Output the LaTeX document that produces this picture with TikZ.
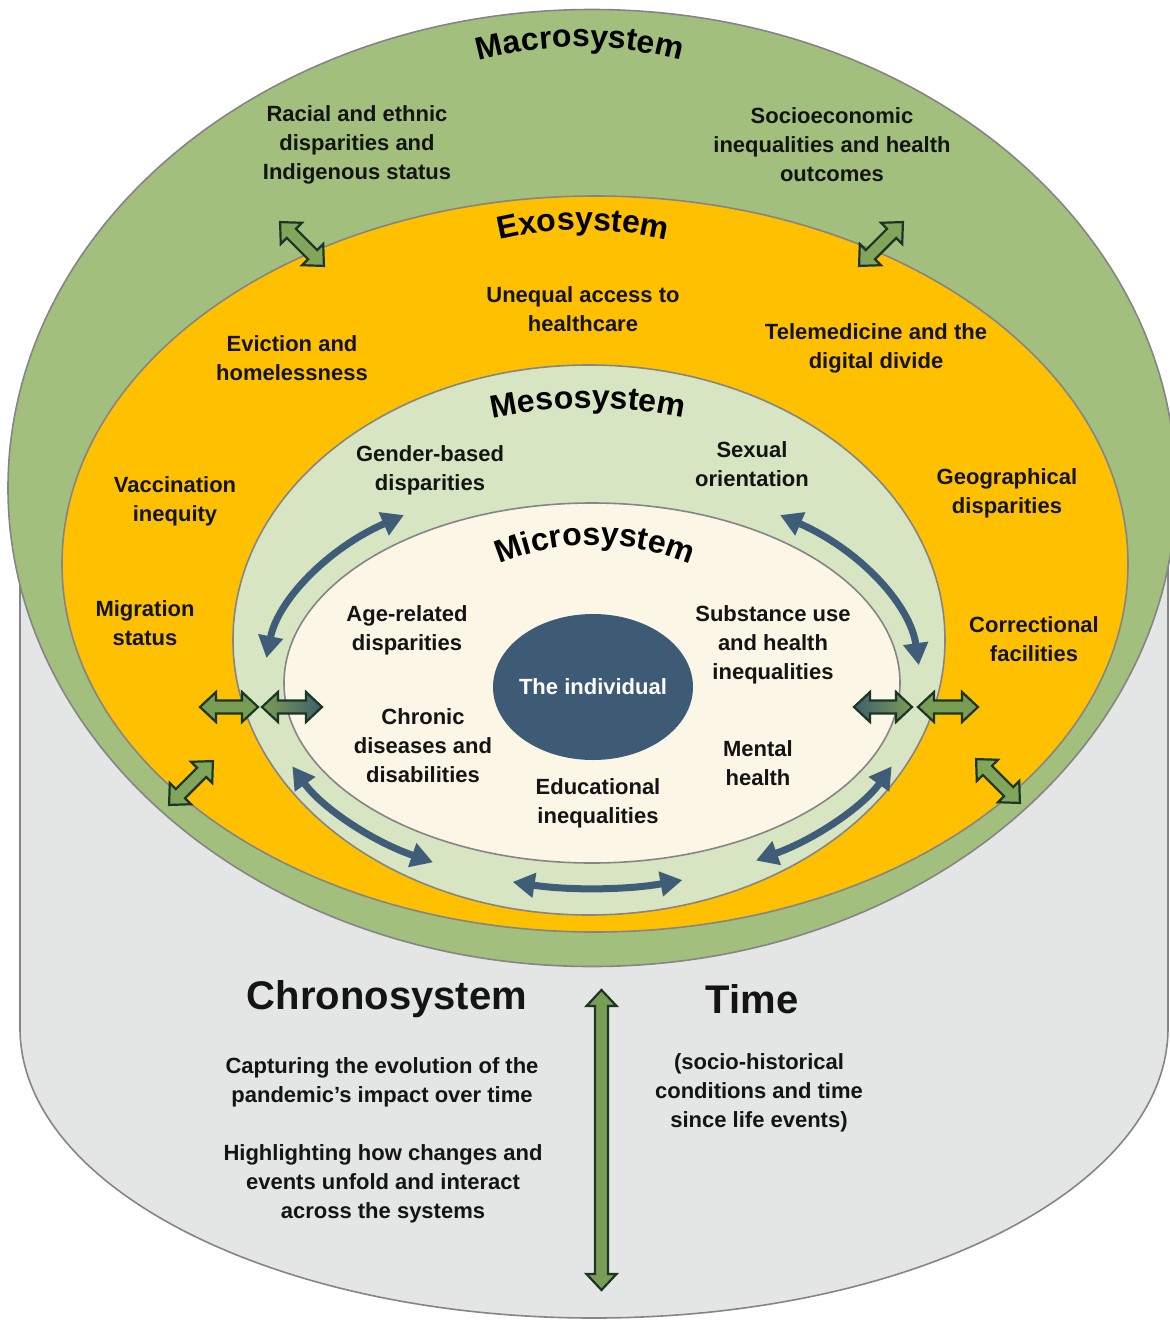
\documentclass[tikz,border=0pt]{standalone}
\usepackage{fontspec}
\setmainfont{Liberation Sans}
\usetikzlibrary{arrows.meta,decorations.text,shapes.geometric}

\definecolor{macroC}{HTML}{A3BF7D}
\definecolor{exoC}{HTML}{FFC000}
\definecolor{mesoC}{HTML}{D7E5C3}
\definecolor{microC}{HTML}{FCF6E7}
\definecolor{indivC}{HTML}{3E5B75}
\definecolor{cylC}{HTML}{E4E6E6}
\definecolor{rimC}{HTML}{858585}
\definecolor{blueArr}{HTML}{3F5D78}
\definecolor{grnArr}{HTML}{7A9D55}
\definecolor{grnLight}{HTML}{80A55B}
\definecolor{slateArr}{HTML}{405E6E}
\definecolor{grnEdge}{HTML}{1B3526}
\definecolor{txtC}{HTML}{141414}

\newcommand{\bodyfont}{\fontsize{22}{29}\selectfont\bfseries}
\newcommand{\titlefont}{\fontsize{32}{32}\selectfont\bfseries}
\newcommand{\chronofont}{\fontsize{40}{44}\selectfont\bfseries}

% block double arrow: #1 centre, #2 angle, #3 length, #4 fill options
\newcommand{\dblarrow}[4]{%
  \draw[garrow,#4,shift={#1},rotate=#2]
   (-#3/2,0) -- (-#3/2+16,-15) -- (-#3/2+16,-6.5) -- (#3/2-16,-6.5) -- (#3/2-16,-15)
   -- (#3/2,0) -- (#3/2-16,15) -- (#3/2-16,6.5) -- (-#3/2+16,6.5) -- (-#3/2+16,15) -- cycle;}

% curved blue double arrow on the ring between micro- and mesosystem
\newcommand{\ringarrow}[2]{%
  \draw[barrow] ({592+328*cos(#1)},{683+205*sin(#1)})
    arc[start angle=-#1, end angle=-#2, x radius=328pt, y radius=205pt];}

% curved title: #1 centre x, #2 centre y, #3 radius, #4 text
\newcommand{\curvedtitle}[4]{%
  \path[titlepath=#4] ({#1+#3*cos(235)},{#2+#3*sin(235)})
    arc[start angle=-235, end angle=-305, radius=#3pt];}

\begin{document}
\begin{tikzpicture}[x=1pt,y=-1pt,
  layer/.style={ellipse, draw=rimC, line width=1.6, inner sep=0, outer sep=0},
  lbl/.style={font=\bodyfont, align=center, text=txtC, inner sep=0},
  barrow/.style={draw=blueArr, line width=7,
     {Triangle[length=22pt,width=24pt]}-{Triangle[length=22pt,width=24pt]}},
  garrow/.style={draw=grnEdge, line width=2.2, line join=miter},
  titlepath/.style={decorate, decoration={text along path, text align=center,
     text={|\titlefont|#1}}}
]
\useasboundingbox (0,0) rectangle (1170,1320);

% cylinder (chronosystem)
\fill[cylC] (20,480) -- (20,1028) arc[start angle=180, end angle=360, x radius=574pt, y radius=290pt] -- (1168,480) -- cycle;
\draw[rimC, line width=1.6] (20,480) -- (20,1028) arc[start angle=180, end angle=360, x radius=574pt, y radius=290pt] -- (1168,480);

% nested systems
\node[layer, fill=macroC, minimum width=1168, minimum height=957] (macro) at (592,488) {};
\node[layer, fill=exoC, minimum width=1066, minimum height=736] (exo) at (595,564) {};
\node[layer, fill=mesoC, minimum width=712, minimum height=550] (meso) at (589,640) {};
\node[layer, fill=microC, minimum width=616, minimum height=360] (micro) at (592,683) {};
\node[ellipse, fill=indivC, minimum width=200, minimum height=146, inner sep=0] (indiv) at (593,687) {};
\node[font=\bodyfont, text=white, inner sep=0] (indivtxt) at (indiv.center) {The individual};

% curved titles
\curvedtitle{580}{427}{380}{Macrosystem}
\curvedtitle{583}{590}{360}{Exosystem}
\curvedtitle{588}{858}{450}{Mesosystem}
\curvedtitle{595}{790}{245}{Microsystem}

% macrosystem labels
\node[lbl] (racial) at (357,145) {Racial and ethnic\\disparities and\\Indigenous status};
\node[lbl] (socio) at (832,145) {Socioeconomic\\inequalities and health\\outcomes};

% exosystem labels
\node[lbl] (access) at (583,309) {Unequal access to\\healthcare};
\node[lbl] (evict) at (292,358) {Eviction and\\homelessness};
\node[lbl] (tele) at (876,348) {Telemedicine and the\\digital divide};
\node[lbl] (vacc) at (175,501) {Vaccination\\inequity};
\node[lbl] (geo) at (1007,493) {Geographical\\disparities};
\node[lbl] (migr) at (145,623) {Migration\\status};
\node[lbl] (corr) at (1034,639) {Correctional\\facilities};

% mesosystem labels
\node[lbl] (gender) at (430,470) {Gender-based\\disparities};
\node[lbl] (sexual) at (752,464) {Sexual\\orientation};

% microsystem labels
\node[lbl] (age) at (407,630) {Age-related\\disparities};
\node[lbl] (subst) at (773,645) {Substance use\\and health\\inequalities};
\node[lbl] (chronic) at (423,746) {Chronic\\diseases and\\disabilities};
\node[lbl] (mental) at (758,763) {Mental\\health};
\node[lbl] (educ) at (598,803) {Educational\\inequalities};

% chronosystem texts
\node[font=\chronofont, text=txtC, inner sep=0] (chrono) at (387,999) {Chronosystem};
\node[font=\chronofont, text=txtC, inner sep=0] (time) at (752,999) {Time};
\node[lbl] (capt) at (382,1082) {Capturing the evolution of the\\pandemic’s impact over time};
\node[lbl] (high) at (383,1184) {Highlighting how changes and\\events unfold and interact\\across the systems};
\node[lbl] (hist) at (759,1093) {(socio-historical\\conditions and time\\since life events)};

% blue ring arrows
\ringarrow{187}{235}
\ringarrow{305}{355}
\ringarrow{156}{119}
\ringarrow{24}{60}
\ringarrow{104}{74}

% green block arrows
\dblarrow{(302,244)}{-45}{62}{fill=grnLight}
\dblarrow{(881,244)}{45}{62}{fill=grnLight}
\dblarrow{(191,783)}{45}{62}{fill=grnLight}
\dblarrow{(998,781)}{-45}{62}{fill=grnLight}
\dblarrow{(229,707)}{0}{58}{fill=grnArr}
\dblarrow{(292,707)}{0}{60}{left color=grnArr, right color=slateArr}
\dblarrow{(883,707)}{0}{58}{left color=slateArr, right color=grnArr}
\dblarrow{(948,707)}{0}{60}{fill=grnArr}
\dblarrow{(601.5,1140)}{90}{300}{fill=grnArr}
\end{tikzpicture}
\end{document}
